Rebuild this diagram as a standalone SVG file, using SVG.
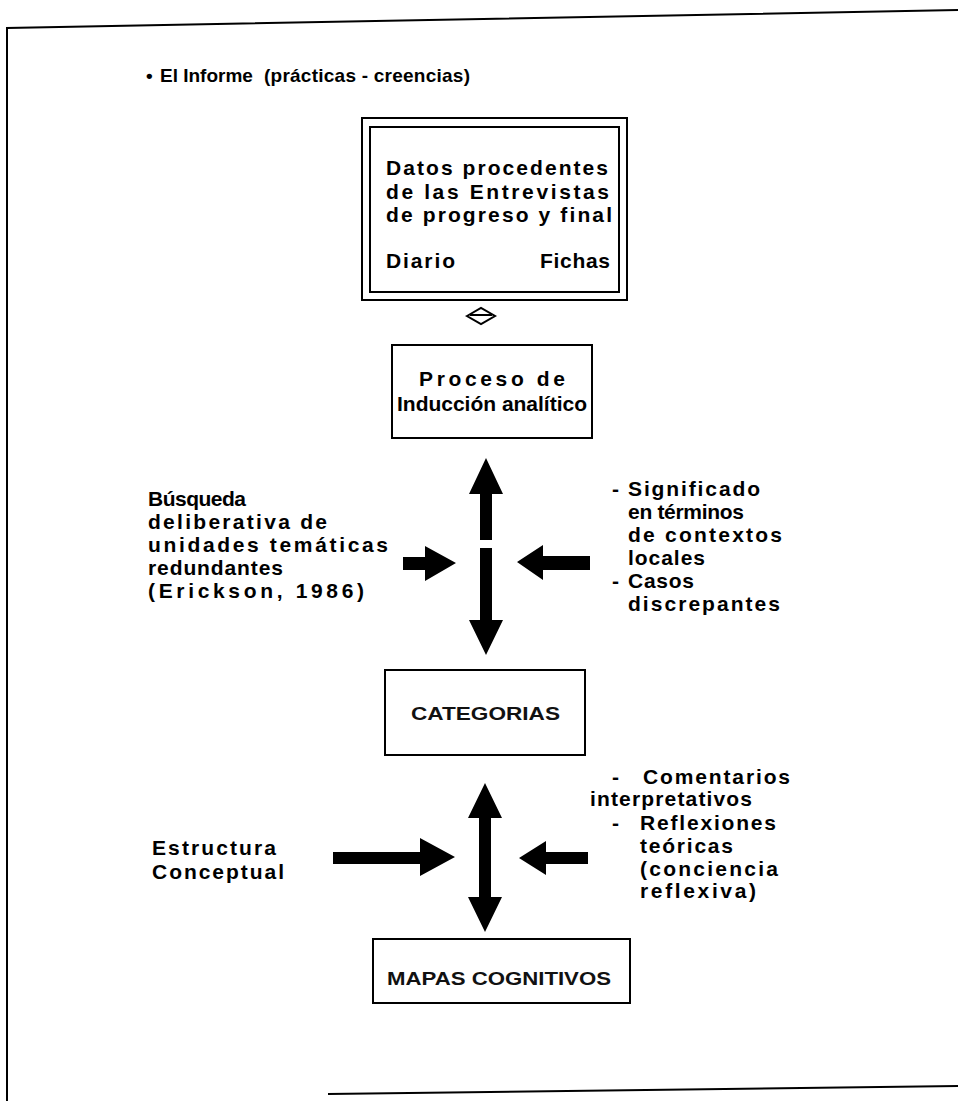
<svg xmlns="http://www.w3.org/2000/svg" width="958" height="1101" viewBox="0 0 958 1101">
<style>
.t{font-family:"Liberation Sans",Arial,sans-serif;font-weight:bold;font-size:21px;fill:#000}
.h{font-family:"Liberation Sans",Arial,sans-serif;font-weight:bold;font-size:19px;fill:#000}
.c{font-family:"Liberation Sans",Arial,sans-serif;font-weight:bold;font-size:19px;fill:#111}
.box{fill:none;stroke:#000;stroke-width:2}
.ar{fill:#000}
</style>
<rect width="958" height="1101" fill="#fff"/>
<g id="frame" fill="none" stroke="#000" stroke-width="2">
<polyline points="958,10 7,28 7,1101"/>
<line x1="328" y1="1094" x2="958" y2="1086"/>
</g>
<g id="title">
<text class="h" x="146" y="82">•</text>
<text class="h" x="160" y="82">El Informe</text>
<text class="h" x="264" y="82" textLength="206" lengthAdjust="spacing">(prácticas - creencias)</text>
</g>
<g id="datos">
<rect class="box" x="362" y="118" width="265" height="182"/>
<rect class="box" x="370" y="127" width="249" height="165"/>
<text class="t" x="386" y="175" textLength="222" lengthAdjust="spacing">Datos procedentes</text>
<text class="t" x="386" y="199" textLength="223" lengthAdjust="spacing">de las Entrevistas</text>
<text class="t" x="386" y="222" textLength="226" lengthAdjust="spacing">de progreso y final</text>
<text class="t" x="386" y="268" textLength="69" lengthAdjust="spacing">Diario</text>
<text class="t" x="540" y="268" textLength="70" lengthAdjust="spacing">Fichas</text>
</g>
<g id="proceso">
<rect class="box" x="392" y="345" width="200" height="93"/>
<text class="t" x="419" y="386" textLength="146" lengthAdjust="spacing">Proceso de</text>
<text class="t" x="397" y="411" textLength="190" lengthAdjust="spacing">Inducción analítico</text>
</g>
<g id="busqueda">
<text class="t" x="148" y="506" textLength="98" lengthAdjust="spacing">Búsqueda</text>
<text class="t" x="148" y="529" textLength="179" lengthAdjust="spacing">deliberativa de</text>
<text class="t" x="148" y="552" textLength="240" lengthAdjust="spacing">unidades temáticas</text>
<text class="t" x="148" y="575" textLength="135" lengthAdjust="spacing">redundantes</text>
<text class="t" x="148" y="598" textLength="216" lengthAdjust="spacing">(Erickson, 1986)</text>
</g>
<g id="significado">
<text class="t" x="612" y="496">-</text>
<text class="t" x="628" y="496" textLength="132" lengthAdjust="spacing">Significado</text>
<text class="t" x="628" y="519" textLength="116" lengthAdjust="spacing">en términos</text>
<text class="t" x="628" y="542" textLength="154" lengthAdjust="spacing">de contextos</text>
<text class="t" x="628" y="565" textLength="77" lengthAdjust="spacing">locales</text>
<text class="t" x="612" y="588">-</text>
<text class="t" x="628" y="588" textLength="66" lengthAdjust="spacing">Casos</text>
<text class="t" x="628" y="611" textLength="152" lengthAdjust="spacing">discrepantes</text>
</g>
<g id="categorias">
<rect class="box" x="385" y="670" width="200" height="85"/>
<text class="c" x="411" y="720" textLength="149" lengthAdjust="spacingAndGlyphs">CATEGORIAS</text>
</g>
<g id="estructura">
<text class="t" x="152" y="855" textLength="124" lengthAdjust="spacing">Estructura</text>
<text class="t" x="152" y="879" textLength="132" lengthAdjust="spacing">Conceptual</text>
</g>
<g id="comentarios">
<text class="t" x="612" y="784">-</text>
<text class="t" x="643" y="784" textLength="147" lengthAdjust="spacing">Comentarios</text>
<text class="t" x="590" y="806" textLength="162" lengthAdjust="spacing">interpretativos</text>
<text class="t" x="612" y="830">-</text>
<text class="t" x="640" y="830" textLength="136" lengthAdjust="spacing">Reflexiones</text>
<text class="t" x="640" y="853" textLength="93" lengthAdjust="spacing">teóricas</text>
<text class="t" x="640" y="876" textLength="138" lengthAdjust="spacing">(conciencia</text>
<text class="t" x="640" y="898" textLength="116" lengthAdjust="spacing">reflexiva)</text>
</g>
<g id="mapas">
<rect class="box" x="373" y="939" width="257" height="64"/>
<text class="c" x="387" y="985" textLength="224" lengthAdjust="spacingAndGlyphs">MAPAS COGNITIVOS</text>
</g>
<g id="connectors">
<g fill="none" stroke="#000" stroke-width="2">
<polygon points="467,316 481,308 495,316 481,324"/>
<line x1="470" y1="315" x2="492" y2="315"/>
</g>
<polygon class="ar" points="486,458 503,494 492,494 492,540 480,540 480,494 469,494"/>
<polygon class="ar" points="480,548 492,548 492,620 503,620 486,655 469,620 480,620"/>
<polygon class="ar" points="403,557 425,557 425,546 456,563 425,581 425,570 403,570"/>
<polygon class="ar" points="517,562 543,545 543,556 590,556 590,570 543,570 543,580"/>
<polygon class="ar" points="485,783 502,818 491,818 491,897 502,897 485,932 468,897 479,897 479,818 468,818"/>
<polygon class="ar" points="333,852 420,852 420,838 455,857 420,876 420,864 333,864"/>
<polygon class="ar" points="519,858 546,841 546,852 588,852 588,864 546,864 546,875"/>
</g>
</svg>
